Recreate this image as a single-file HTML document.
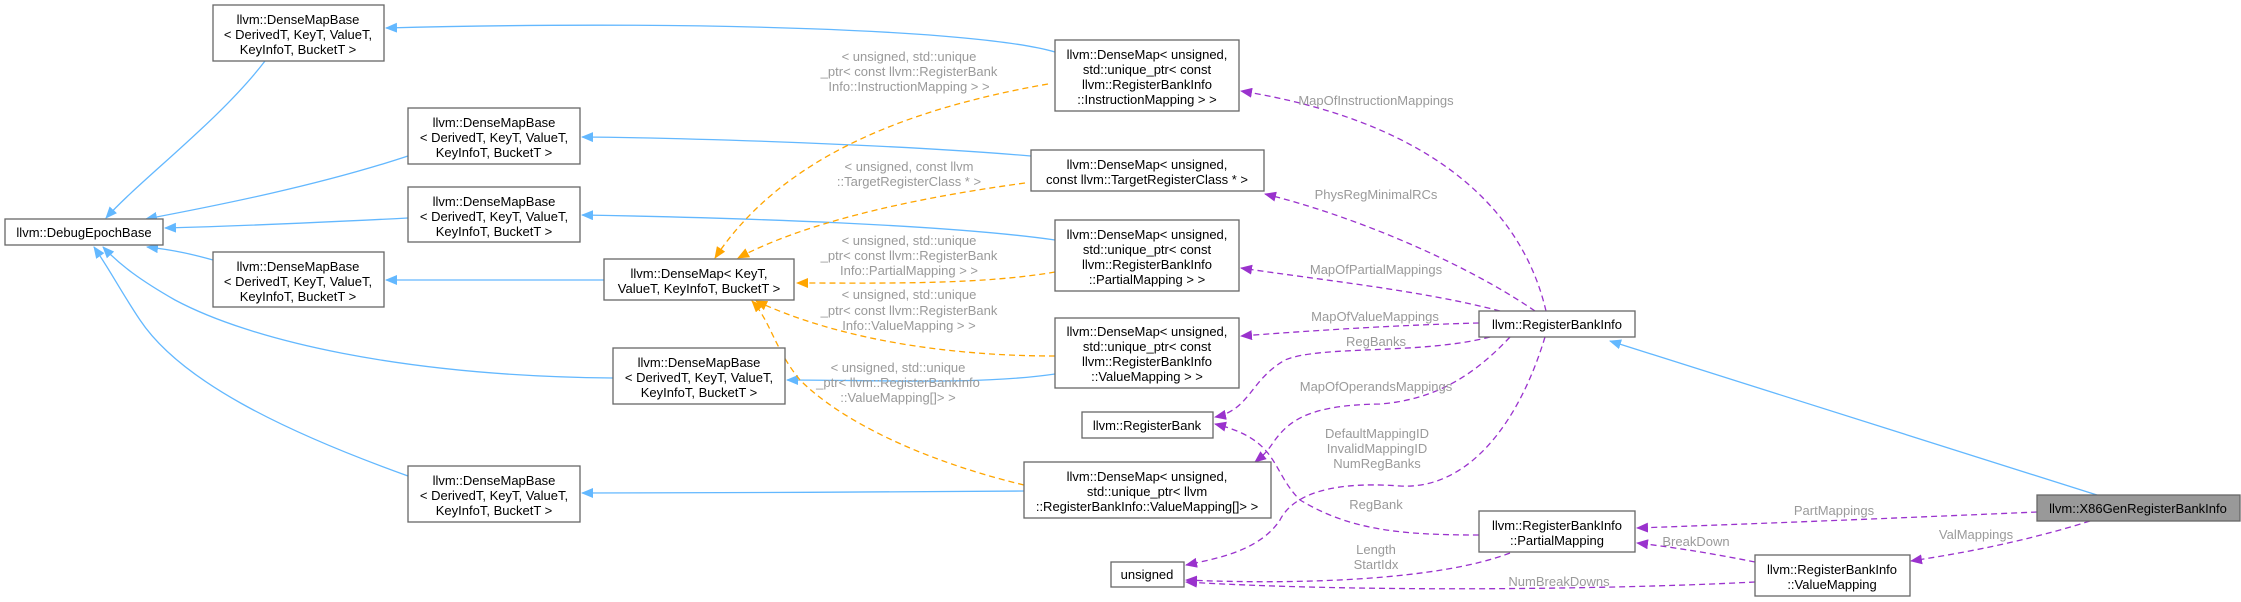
<!DOCTYPE html>
<html><head><meta charset="utf-8"><style>
html,body{margin:0;padding:0;background:#fff;}
svg{display:block;}
text{font-family:"Liberation Sans",Arial,sans-serif;font-size:13px;}
.n{fill:#000;text-anchor:middle;}
.l{fill:#9a9a9a;text-anchor:middle;}
.b{fill:#fff;stroke:#666;stroke-width:1.3;}
.eb{fill:none;stroke:#63b8ff;stroke-width:1.3;}
.eo{fill:none;stroke:#ffa500;stroke-width:1.3;stroke-dasharray:6,4;}
.ep{fill:none;stroke:#9a32cd;stroke-width:1.3;stroke-dasharray:6,4;}
</style></head><body>
<svg width="2241" height="602" viewBox="0 0 2241 602" xmlns="http://www.w3.org/2000/svg">
<defs>
<marker id="ab" markerWidth="12" markerHeight="10" refX="11" refY="5" orient="auto" markerUnits="userSpaceOnUse"><path d="M0,0 L12,5 L0,10 z" fill="#63b8ff"/></marker>
<marker id="ao" markerWidth="12" markerHeight="10" refX="11" refY="5" orient="auto" markerUnits="userSpaceOnUse"><path d="M0,0 L12,5 L0,10 z" fill="#ffa500"/></marker>
<marker id="ap" markerWidth="12" markerHeight="10" refX="11" refY="5" orient="auto" markerUnits="userSpaceOnUse"><path d="M0,0 L12,5 L0,10 z" fill="#9a32cd"/></marker>
</defs>

<!-- blue edges -->
<path class="eb" marker-end="url(#ab)" d="M265,61 C220,120 140,180 106,218"/>
<path class="eb" marker-end="url(#ab)" d="M408,156 C320,185 220,205 146,219"/>
<path class="eb" marker-end="url(#ab)" d="M408,218 C330,222 240,226 165,228"/>
<path class="eb" marker-end="url(#ab)" d="M213,260 C195,255 175,250 147,247"/>
<path class="eb" marker-end="url(#ab)" d="M613,378 C400,376 250,340 175,300 C140,280 120,265 103,247"/>
<path class="eb" marker-end="url(#ab)" d="M408,476 C280,430 180,380 140,320 C120,290 110,270 94,247"/>
<path class="eb" marker-end="url(#ab)" d="M604,280 L386,280"/>
<path class="eb" marker-end="url(#ab)" d="M1055,52 C980,30 700,20 386,28"/>
<path class="eb" marker-end="url(#ab)" d="M1031,156 C900,145 700,138 582,137"/>
<path class="eb" marker-end="url(#ab)" d="M1055,240 C950,225 750,218 582,215"/>
<path class="eb" marker-end="url(#ab)" d="M1055,374 C980,385 880,380 787,380"/>
<path class="eb" marker-end="url(#ab)" d="M1024,491 C900,492 700,493 582,493"/>
<path class="eb" marker-end="url(#ab)" d="M2097,495 L1610,341"/>

<!-- orange edges -->
<path class="eo" marker-end="url(#ao)" d="M1048,84 C900,110 780,160 715,258"/>
<path class="eo" marker-end="url(#ao)" d="M1025,183 C900,200 800,225 738,258"/>
<path class="eo" marker-end="url(#ao)" d="M1055,272 C980,285 880,283 797,283"/>
<path class="eo" marker-end="url(#ao)" d="M1055,356 C950,356 840,340 756,301"/>
<path class="eo" marker-end="url(#ao)" d="M1024,485 C920,460 840,420 800,380 C775,350 770,320 752,301"/>

<!-- purple edges -->
<path class="ep" marker-end="url(#ap)" d="M1546,311 C1520,200 1420,120 1241,91"/>
<path class="ep" marker-end="url(#ap)" d="M1535,311 C1460,260 1350,215 1265,194"/>
<path class="ep" marker-end="url(#ap)" d="M1500,311 C1420,290 1320,280 1241,268"/>
<path class="ep" marker-end="url(#ap)" d="M1479,323 C1400,325 1320,330 1241,336"/>
<path class="ep" marker-end="url(#ap)" d="M1490,337 C1420,355 1320,345 1285,360 C1250,380 1250,410 1215,417"/>
<path class="ep" marker-end="url(#ap)" d="M1510,337 C1470,380 1430,400 1380,404 C1310,405 1290,420 1275,440 C1265,455 1260,458 1255,462"/>
<path class="ep" marker-end="url(#ap)" d="M1545,337 C1520,420 1470,490 1400,486 C1320,480 1290,500 1280,520 C1260,550 1220,558 1186,565"/>
<path class="ep" marker-end="url(#ap)" d="M1479,535 C1400,535 1350,530 1300,500 C1270,470 1280,440 1215,424"/>
<path class="ep" marker-end="url(#ap)" d="M1510,553 C1440,580 1300,585 1186,580"/>
<path class="ep" marker-end="url(#ap)" d="M1755,582 C1600,590 1350,592 1186,582"/>
<path class="ep" marker-end="url(#ap)" d="M1755,562 C1720,555 1680,548 1637,543"/>
<path class="ep" marker-end="url(#ap)" d="M2037,512 C1900,518 1750,524 1637,528"/>
<path class="ep" marker-end="url(#ap)" d="M2090,521 C2030,540 1970,552 1911,561"/>

<!-- nodes -->
<rect class="b" x="5" y="219" width="158" height="26"/>
<text class="n" x="84" y="237">llvm::DebugEpochBase</text>

<g>
<rect class="b" x="213" y="5" width="171" height="56"/>
<text class="n" x="298" y="24">llvm::DenseMapBase</text><text class="n" x="298" y="39">&lt; DerivedT, KeyT, ValueT,</text><text class="n" x="298" y="54">KeyInfoT, BucketT &gt;</text>
</g>
<g>
<rect class="b" x="408" y="108" width="172" height="56"/>
<text class="n" x="494" y="127">llvm::DenseMapBase</text><text class="n" x="494" y="142">&lt; DerivedT, KeyT, ValueT,</text><text class="n" x="494" y="157">KeyInfoT, BucketT &gt;</text>
</g>
<g>
<rect class="b" x="408" y="187" width="172" height="55"/>
<text class="n" x="494" y="206">llvm::DenseMapBase</text><text class="n" x="494" y="221">&lt; DerivedT, KeyT, ValueT,</text><text class="n" x="494" y="236">KeyInfoT, BucketT &gt;</text>
</g>
<g>
<rect class="b" x="213" y="252" width="171" height="55"/>
<text class="n" x="298" y="271">llvm::DenseMapBase</text><text class="n" x="298" y="286">&lt; DerivedT, KeyT, ValueT,</text><text class="n" x="298" y="301">KeyInfoT, BucketT &gt;</text>
</g>
<g>
<rect class="b" x="613" y="348" width="172" height="56"/>
<text class="n" x="699" y="367">llvm::DenseMapBase</text><text class="n" x="699" y="382">&lt; DerivedT, KeyT, ValueT,</text><text class="n" x="699" y="397">KeyInfoT, BucketT &gt;</text>
</g>
<g>
<rect class="b" x="408" y="466" width="172" height="56"/>
<text class="n" x="494" y="485">llvm::DenseMapBase</text><text class="n" x="494" y="500">&lt; DerivedT, KeyT, ValueT,</text><text class="n" x="494" y="515">KeyInfoT, BucketT &gt;</text>
</g>
<g>
<rect class="b" x="604" y="259" width="190" height="41"/>
<text class="n" x="699" y="278">llvm::DenseMap&lt; KeyT,</text><text class="n" x="699" y="293">ValueT, KeyInfoT, BucketT &gt;</text>
</g>

<g>
<rect class="b" x="1055" y="40" width="184" height="71"/>
<text class="n" x="1147" y="59">llvm::DenseMap&lt; unsigned,</text><text class="n" x="1147" y="74">std::unique_ptr&lt; const</text><text class="n" x="1147" y="89">llvm::RegisterBankInfo</text><text class="n" x="1147" y="104">::InstructionMapping &gt; &gt;</text>
</g>
<g>
<rect class="b" x="1031" y="150" width="233" height="41"/>
<text class="n" x="1147" y="169">llvm::DenseMap&lt; unsigned,</text><text class="n" x="1147" y="184">const llvm::TargetRegisterClass * &gt;</text>
</g>
<g>
<rect class="b" x="1055" y="220" width="184" height="71"/>
<text class="n" x="1147" y="239">llvm::DenseMap&lt; unsigned,</text><text class="n" x="1147" y="254">std::unique_ptr&lt; const</text><text class="n" x="1147" y="269">llvm::RegisterBankInfo</text><text class="n" x="1147" y="284">::PartialMapping &gt; &gt;</text>
</g>
<g>
<rect class="b" x="1055" y="318" width="184" height="70"/>
<text class="n" x="1147" y="336">llvm::DenseMap&lt; unsigned,</text><text class="n" x="1147" y="351">std::unique_ptr&lt; const</text><text class="n" x="1147" y="366">llvm::RegisterBankInfo</text><text class="n" x="1147" y="381">::ValueMapping &gt; &gt;</text>
</g>
<g>
<rect class="b" x="1082" y="412" width="131" height="26"/>
<text class="n" x="1147" y="430">llvm::RegisterBank</text>
</g>
<g>
<rect class="b" x="1024" y="462" width="247" height="56"/>
<text class="n" x="1147" y="481">llvm::DenseMap&lt; unsigned,</text><text class="n" x="1147" y="496">std::unique_ptr&lt; llvm</text><text class="n" x="1147" y="511">::RegisterBankInfo::ValueMapping[]&gt; &gt;</text>
</g>
<g>
<rect class="b" x="1111" y="562" width="73" height="25"/>
<text class="n" x="1147" y="579">unsigned</text>
</g>
<g>
<rect class="b" x="1479" y="311" width="156" height="26"/>
<text class="n" x="1557" y="329">llvm::RegisterBankInfo</text>
</g>
<g>
<rect class="b" x="1479" y="511" width="156" height="41"/>
<text class="n" x="1557" y="530">llvm::RegisterBankInfo</text><text class="n" x="1557" y="545">::PartialMapping</text>
</g>
<g>
<rect class="b" x="1755" y="555" width="155" height="41"/>
<text class="n" x="1832" y="574">llvm::RegisterBankInfo</text><text class="n" x="1832" y="589">::ValueMapping</text>
</g>
<g>
<rect x="2037" y="495" width="203" height="26" fill="#999" stroke="#666" stroke-width="1.3"/>
<text class="n" x="2138" y="513">llvm::X86GenRegisterBankInfo</text>
</g>

<!-- edge labels -->
<text class="l" x="909" y="61">&lt; unsigned, std::unique</text>
<text class="l" x="909" y="76">_ptr&lt; const llvm::RegisterBank</text>
<text class="l" x="909" y="91">Info::InstructionMapping &gt; &gt;</text>
<text class="l" x="909" y="171">&lt; unsigned, const llvm</text>
<text class="l" x="909" y="186">::TargetRegisterClass * &gt;</text>
<text class="l" x="909" y="245">&lt; unsigned, std::unique</text>
<text class="l" x="909" y="260">_ptr&lt; const llvm::RegisterBank</text>
<text class="l" x="909" y="275">Info::PartialMapping &gt; &gt;</text>
<text class="l" x="909" y="299">&lt; unsigned, std::unique</text>
<text class="l" x="909" y="315">_ptr&lt; const llvm::RegisterBank</text>
<text class="l" x="909" y="330">Info::ValueMapping &gt; &gt;</text>
<text class="l" x="898" y="372">&lt; unsigned, std::unique</text>
<text class="l" x="898" y="387">_ptr&lt; llvm::RegisterBankInfo</text>
<text class="l" x="898" y="402">::ValueMapping[]&gt; &gt;</text>

<text class="l" x="1376" y="105">MapOfInstructionMappings</text>
<text class="l" x="1376" y="199">PhysRegMinimalRCs</text>
<text class="l" x="1376" y="274">MapOfPartialMappings</text>
<text class="l" x="1375" y="321">MapOfValueMappings</text>
<text class="l" x="1376" y="346">RegBanks</text>
<text class="l" x="1376" y="391">MapOfOperandsMappings</text>
<text class="l" x="1377" y="438">DefaultMappingID</text>
<text class="l" x="1377" y="453">InvalidMappingID</text>
<text class="l" x="1377" y="468">NumRegBanks</text>
<text class="l" x="1376" y="509">RegBank</text>
<text class="l" x="1376" y="554">Length</text>
<text class="l" x="1376" y="569">StartIdx</text>
<text class="l" x="1559" y="586">NumBreakDowns</text>
<text class="l" x="1834" y="515">PartMappings</text>
<text class="l" x="1696" y="546">BreakDown</text>
<text class="l" x="1976" y="539">ValMappings</text>
</svg>
</body></html>
